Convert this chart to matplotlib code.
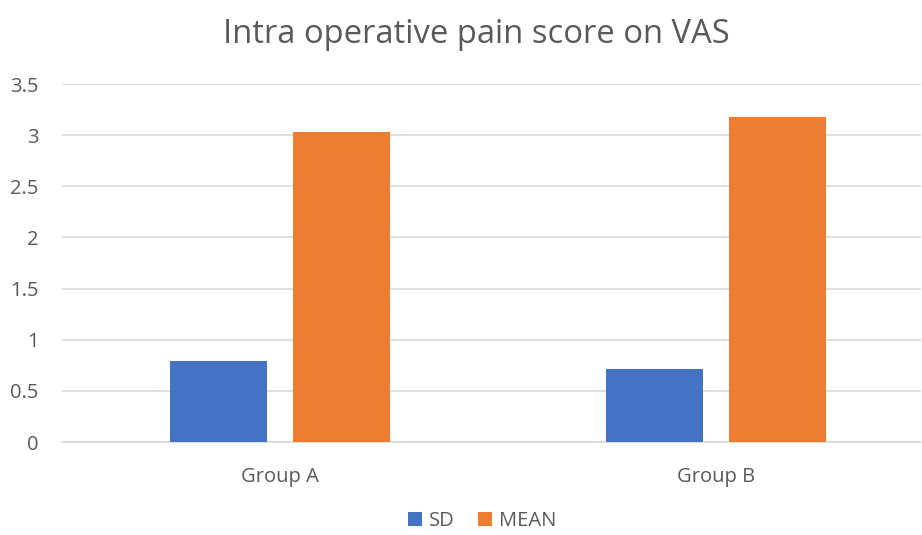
import matplotlib.pyplot as plt
import numpy as np

groups = ['Group A', 'Group B']
sd_values = [0.79, 0.71]
mean_values = [3.03, 3.18]
y_ticks = [0, 0.5, 1, 1.5, 2, 2.5, 3, 3.5]

plt.rcParams['font.family'] = ['Open Sans', 'DejaVu Sans']
text_color = '#595959'

fig = plt.figure(figsize=(9.22, 5.35), dpi=100)
ax = fig.add_axes([62 / 922, 93 / 535, (921 - 62) / 922, (442 - 84) / 535])

x = np.arange(len(groups))
width = 0.2225
ax.bar(x - 0.142, sd_values, width, color='#4472C4', label='SD', zorder=3)
ax.bar(x + 0.142, mean_values, width, color='#ED7D31', label='MEAN', zorder=3)

ax.set_xlim(-0.5, 1.47)
ax.set_ylim(0, 3.5)
ax.set_yticks(y_ticks)
ax.set_yticklabels([f'{t:g}' for t in y_ticks])
ax.set_xticks(x)
ax.set_xticklabels(groups)
ax.yaxis.grid(True, color='#D9D9D9', linewidth=1.2, zorder=0)
for side in ['top', 'right', 'left']:
    ax.spines[side].set_visible(False)
ax.spines['bottom'].set_color('#D9D9D9')
ax.spines['bottom'].set_linewidth(1.2)
ax.tick_params(axis='both', length=0, labelsize=14.5, colors=text_color)
ax.tick_params(axis='y', pad=17)
ax.tick_params(axis='x', pad=18)

fig.text(0.517, 0.935, 'Intra operative pain score on VAS', ha='center', va='center',
         fontsize=23.6, color=text_color)

fig.legend(loc='lower center', bbox_to_anchor=(0.523, 0.0), ncol=2, frameon=False,
           fontsize=14.5, labelcolor=text_color, handlelength=0.65, handleheight=0.65,
           handletextpad=0.35, columnspacing=1.2, borderaxespad=0.1, borderpad=0.1)

plt.savefig('out.png', dpi=100)
